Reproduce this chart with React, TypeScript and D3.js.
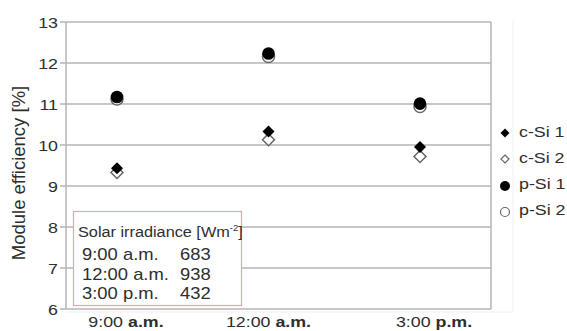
import React from "react";
import * as d3 from "d3";

const categories = ["9:00", "12:00", "3:00"];
const categorySuffix = ["a.m.", "a.m.", "p.m."];
const cSi1 = [9.43, 10.33, 9.95];
const cSi2 = [9.33, 10.13, 9.72];
const pSi1 = [11.17, 12.23, 11.01];
const pSi2 = [11.12, 12.16, 10.94];
const yTicks = [6, 7, 8, 9, 10, 11, 12, 13];
const legendLabels = ["c-Si 1", "c-Si 2", "p-Si 1", "p-Si 2"];
const irrTimes = ["9:00 a.m.", "12:00 a.m.", "3:00 p.m."];
const irrValues = [683, 938, 432];

const W = 567;
const H = 331;
const plotLeft = 66;
const plotRight = 491;
const plotTop = 22;
const plotBottom = 309;

const FONT = "'Liberation Sans', Arial, sans-serif";
const TXT = "#2e2e2e";
const GRID = "#b4b4b4";

function diamond(cx: number, cy: number, r: number) {
  return `M${cx},${cy - r}L${cx + r},${cy}L${cx},${cy + r}L${cx - r},${cy}Z`;
}

export default function App() {
  const x = d3.scalePoint<string>().domain(categories).range([117, 420]);
  const y = d3.scaleLinear().domain([6, 13]).range([plotBottom, plotTop]);
  const leg = d3.scalePoint<string>().domain(legendLabels).range([132, 210]);
  const sx = 1.15;
  const labelShift = [9, 0, 14];

  return (
    <svg width={W} height={H} style={{ position: "absolute", left: 0, top: 0, background: "#fff" }} fontFamily={FONT}>
      <rect x={0} y={0} width={W} height={H} fill="#fff" />
      {/* faint shadow frame */}
      <line x1={plotRight + 22} y1={plotTop - 2} x2={plotRight + 22} y2={plotBottom + 3} stroke="#f0f0f0" strokeWidth={1} />
      <line x1={plotLeft} y1={plotBottom + 3} x2={plotRight + 22} y2={plotBottom + 3} stroke="#f0f0f0" strokeWidth={1} />
      {/* gridlines */}
      {yTicks.map((t) => (
        <line key={"g" + t} x1={plotLeft - 6} x2={plotRight} y1={y(t)} y2={y(t)} stroke={GRID} strokeWidth={1.5} />
      ))}
      <line x1={plotLeft} x2={plotLeft} y1={plotTop} y2={plotBottom} stroke={GRID} strokeWidth={1.5} />
      <line x1={plotRight} x2={plotRight} y1={plotTop} y2={plotBottom} stroke={GRID} strokeWidth={1.5} />
      {/* y tick labels */}
      {yTicks.map((t) => (
        <text key={"t" + t} transform={`translate(58,${y(t) + 5.5}) scale(${sx},1)`} textAnchor="end" fontSize={15.5} fill={TXT}>
          {t}
        </text>
      ))}
      {/* y title */}
      <text transform={`translate(25,${173}) rotate(-90)`} textAnchor="middle" fontSize={18.5} fill={TXT}>
        Module efficiency [%]
      </text>
      {/* x labels */}
      {categories.map((c, i) => (
        <text key={"x" + c} transform={`translate(${(x(c) as number) + labelShift[i]},327) scale(${sx},1)`} textAnchor="middle" fontSize={15.5} fill={TXT}>
          {c + " "}
          <tspan fontWeight="bold">{categorySuffix[i]}</tspan>
        </text>
      ))}
      {/* irradiance box */}
      <rect x={73.5} y={211.5} width={168} height={94} fill="#fff" stroke="#dcaaaa" strokeWidth={1.2} />
      <text transform={`translate(78,237) scale(1.05,1)`} fontSize={15.5} fill={TXT}>
        Solar irradiance [Wm
        <tspan fontSize={9} dy={-6}>-2</tspan>
        <tspan dy={6}>]</tspan>
      </text>
      {irrTimes.map((t, i) => (
        <g key={"irr" + i}>
          <text transform={`translate(82,${260 + i * 19.5}) scale(${sx},1)`} fontSize={16} fill={TXT}>
            {t}
          </text>
          <text transform={`translate(180,${260 + i * 19.5}) scale(${sx},1)`} fontSize={16} fill={TXT}>
            {irrValues[i]}
          </text>
        </g>
      ))}
      {/* markers */}
      {categories.map((c, i) => {
        const cx = x(c) as number;
        return (
          <g key={"m" + c}>
            <path d={diamond(cx, y(cSi2[i]), 6)} fill="#fff" stroke="#666" strokeWidth={1.5} />
            <path d={diamond(cx, y(cSi1[i]), 6)} fill="#000" />
            <circle cx={cx} cy={y(pSi2[i])} r={6} fill="#fff" stroke="#666" strokeWidth={1.5} />
            <circle cx={cx} cy={y(pSi1[i])} r={6.3} fill="#000" />
          </g>
        );
      })}
      {/* legend */}
      {legendLabels.map((l, i) => {
        const cy = leg(l) as number;
        const mx = 505;
        let marker;
        if (i === 0) marker = <path d={diamond(mx, cy + 1, 4.5)} fill="#000" />;
        else if (i === 1) marker = <path d={diamond(mx, cy + 1, 4)} fill="#fff" stroke="#666" strokeWidth={1.2} />;
        else if (i === 2) marker = <circle cx={mx} cy={cy + 2} r={5} fill="#000" />;
        else marker = <circle cx={mx} cy={cy + 2} r={4.5} fill="#fff" stroke="#666" strokeWidth={1.2} />;
        return (
          <g key={"l" + l}>
            {marker}
            <text transform={`translate(519,${cy + 5}) scale(${sx},1)`} fontSize={15.5} fill={TXT}>
              {l}
            </text>
          </g>
        );
      })}
    </svg>
  );
}
